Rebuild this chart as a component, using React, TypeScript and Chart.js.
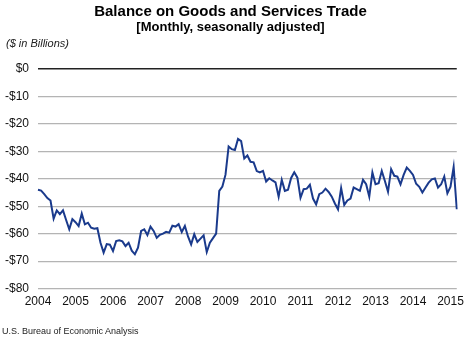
import React, { useEffect, useRef } from "react";
import { Chart, registerables } from "chart.js";

Chart.register(...registerables);

const TITLE = "Balance on Goods and Services Trade";
const SUBTITLE = "[Monthly, seasonally adjusted]";
const UNIT_LABEL = "($ in Billions)";
const SOURCE = "U.S. Bureau of Economic Analysis";

const YEARS = [2004, 2005, 2006, 2007, 2008, 2009, 2010, 2011, 2012, 2013, 2014, 2015];
const MONTHS = ["Jan", "Feb", "Mar", "Apr", "May", "Jun", "Jul", "Aug", "Sep", "Oct", "Nov", "Dec"];

// Monthly balance, Jan 2004 - Mar 2015 ($ billions)
const balance2004 = [-44.0, -44.3, -45.6, -47.0, -47.9, -54.5, -51.5, -52.9, -51.5, -55.0, -58.4, -54.7];
const balance2005 = [-55.8, -57.2, -52.7, -56.6, -56.0, -57.8, -58.2, -58.0, -63.3, -66.9, -63.8, -64.0];
const balance2006 = [-66.3, -62.7, -62.4, -62.8, -64.5, -63.3, -66.2, -67.5, -65.1, -59.0, -58.4, -60.5];
const balance2007 = [-57.4, -59.0, -61.5, -60.4, -60.0, -59.3, -59.6, -57.1, -57.4, -56.5, -59.4, -57.2];
const balance2008 = [-61.0, -63.9, -60.2, -63.0, -61.8, -60.6, -66.7, -63.3, -61.6, -60.0, -44.4, -42.8];
const balance2009 = [-38.5, -28.2, -29.2, -29.5, -25.5, -26.3, -32.6, -31.5, -33.8, -34.0, -37.2, -37.7];
const balance2010 = [-37.1, -41.0, -39.8, -40.6, -41.3, -46.5, -40.4, -44.4, -44.0, -39.7, -37.6, -39.6];
const balance2011 = [-46.9, -43.8, -43.6, -42.2, -47.2, -49.3, -45.6, -45.0, -43.6, -44.8, -46.5, -49.0];
const balance2012 = [-51.1, -43.4, -49.5, -47.9, -47.2, -43.2, -43.8, -44.4, -40.4, -42.0, -46.5, -37.7];
const balance2013 = [-42.0, -41.6, -37.1, -40.8, -44.7, -36.5, -38.9, -39.2, -42.0, -38.6, -35.9, -37.1];
const balance2014 = [-38.6, -41.8, -42.9, -45.0, -43.2, -41.4, -40.2, -39.9, -43.2, -42.0, -39.2, -45.3];
const balance2015 = [-42.9, -35.7, -51.1];

const Y_MIN = -80;
const Y_MAX = 0;
const Y_STEP = 10;

export default function App() {
  const canvasRef = useRef<HTMLCanvasElement | null>(null);

  useEffect(() => {
    if (!canvasRef.current) return;
    const values = [
      ...balance2004, ...balance2005, ...balance2006, ...balance2007,
      ...balance2008, ...balance2009, ...balance2010, ...balance2011,
      ...balance2012, ...balance2013, ...balance2014, ...balance2015,
    ];
    const labels: string[] = [];
    YEARS.forEach((y) => MONTHS.forEach((m) => labels.push(m + " " + y)));
    labels.length = values.length;

    const chart = new Chart(canvasRef.current, {
      type: "line",
      data: {
        labels,
        datasets: [
          {
            label: "Balance",
            data: values,
            borderColor: "#1a3a8c",
            borderWidth: 2,
            pointRadius: 0,
            tension: 0,
            fill: false,
          },
        ],
      },
      options: {
        responsive: false,
        animation: false,
        layout: { padding: { top: 3, right: 9, bottom: 22, left: 0 } },
        plugins: {
          legend: { display: false },
          tooltip: { enabled: false },
          title: {
            display: true,
            text: TITLE,
            color: "#000",
            font: { family: "Liberation Sans, Arial, sans-serif", size: 15, weight: "bold", lineHeight: 1.2 },
            padding: { top: 0, bottom: 0 },
          },
          subtitle: {
            display: true,
            text: SUBTITLE,
            color: "#000",
            font: { family: "Liberation Sans, Arial, sans-serif", size: 13, weight: "bold", lineHeight: 1 },
            padding: { top: 0, bottom: 35 },
          },
        },
        scales: {
          x: {
            type: "category",
            grid: { display: false, drawTicks: false },
            border: { display: false },
            ticks: {
              autoSkip: false,
              maxRotation: 0,
              padding: 6,
              color: "#111",
              font: { family: "Liberation Sans, Arial, sans-serif", size: 12 },
              callback: (_v: any, i: number) => (i % 12 === 0 ? String(YEARS[i / 12]) : null),
            },
          },
          y: {
            min: Y_MIN,
            max: Y_MAX,
            grid: {
              drawTicks: false,
              color: (ctx: any) => (ctx.tick && ctx.tick.value === 0 ? "#222" : "#b4b4b4"),
              lineWidth: (ctx: any) => (ctx.tick && ctx.tick.value === 0 ? 1.5 : 1.3),
            },
            border: { display: false },
            afterFit: (s: any) => {
              s.width = 38;
            },
            ticks: {
              stepSize: Y_STEP,
              padding: 9,
              color: "#111",
              font: { family: "Liberation Sans, Arial, sans-serif", size: 12 },
              callback: (v: any) => (Number(v) === 0 ? "$0" : "-$" + Math.abs(Number(v))),
            },
          },
        },
      },
    });
    return () => chart.destroy();
  }, []);

  return (
    <div style={{ position: "fixed", left: 0, top: 0, width: 470, height: 337, background: "#fff" }}>
      <canvas ref={canvasRef} width={470} height={337} style={{ display: "block" }} />
      <span
        style={{
          position: "absolute",
          left: 6,
          top: 37,
          fontFamily: "Liberation Sans, Arial, sans-serif",
          fontStyle: "italic",
          fontSize: 11,
          color: "#222",
          whiteSpace: "nowrap",
        }}
      >
        {UNIT_LABEL}
      </span>
      <span
        style={{
          position: "absolute",
          left: 2,
          top: 326,
          fontFamily: "Liberation Sans, Arial, sans-serif",
          fontSize: 9,
          color: "#222",
          whiteSpace: "nowrap",
        }}
      >
        {SOURCE}
      </span>
    </div>
  );
}
